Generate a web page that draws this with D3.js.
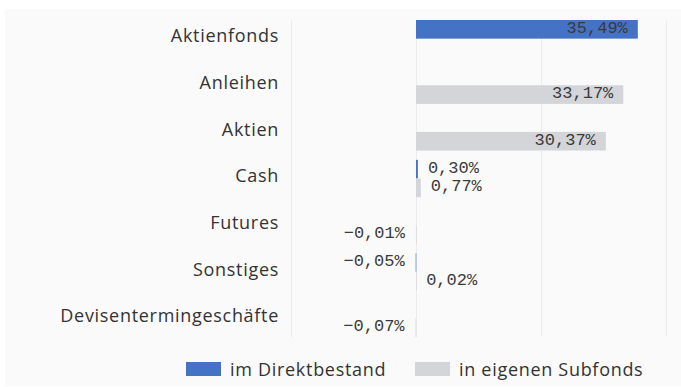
<!DOCTYPE html>
<html>
<head>
<meta charset="utf-8">
<script src="https://cdn.jsdelivr.net/npm/d3@7"></script>
<style>
  html, body { margin: 0; padding: 0; background: #ffffff; }
  svg { display: block; }
</style>
</head>
<body>
<svg id="chart" width="681" height="387"></svg>
<script>
// Asset classes, top to bottom
const categories = ["Aktienfonds", "Anleihen", "Aktien", "Cash", "Futures", "Sonstiges", "Devisentermingeschäfte"];
// Share in percent, held directly
const direktValues = [35.49, null, null, 0.30, null, -0.05, null];
// Share in percent, held through own sub-funds
const subfondsValues = [null, 33.17, 30.37, 0.77, -0.01, 0.02, -0.07];
const seriesNames = ["im Direktbestand", "in eigenen Subfonds"];
const seriesColors = ["#4472c4", "#d3d5d9"];
const xTicks = [-20, 0, 20, 40];

const svg = d3.select("#chart");
const labelFont = "'Open Sans', 'Liberation Sans', sans-serif";
const valueFont = "'Liberation Mono', 'DejaVu Sans Mono', monospace";

// panel background
svg.append("rect")
  .attr("x", 5).attr("y", 9).attr("width", 676).attr("height", 377)
  .attr("fill", "#fafafa");

const x = d3.scaleLinear().domain([-20, 40]).range([291, 666]);
const y = d3.scaleBand().domain(categories).range([20, 337]).paddingInner(0.2).paddingOuter(0);
const ySub = d3.scaleBand().domain(seriesNames).range([0, y.bandwidth()]);

const de = d3.formatLocale({decimal: ",", thousands: ".", grouping: [3], currency: ["", " €"], minus: "\u2212"});
const fmt = v => de.format(".2f")(v) + "%";

// vertical grid lines
const gx = d3.axisBottom(x).tickValues(xTicks).tickSize(-(337 - 20)).tickFormat("");
svg.append("g")
  .attr("transform", "translate(0,337)")
  .call(gx)
  .call(g => g.select(".domain").remove())
  .call(g => g.selectAll(".tick line").attr("stroke", "#ececec").attr("stroke-width", 1));

// category labels
const gy = d3.axisLeft(y).tickSize(0).tickPadding(0);
svg.append("g")
  .attr("transform", "translate(279,-2)")
  .call(gy)
  .call(g => g.select(".domain").remove())
  .call(g => g.selectAll("text")
    .attr("font-family", labelFont)
    .attr("font-size", 18)
    .attr("letter-spacing", "0.7px")
    .attr("fill", "#333333"));

const rows = [];
categories.forEach((c, i) => {
  [direktValues, subfondsValues].forEach((arr, s) => {
    if (arr[i] !== null) rows.push({cat: c, series: seriesNames[s], color: seriesColors[s], value: arr[i]});
  });
});

const bars = svg.append("g");
bars.selectAll("rect").data(rows).join("rect")
  .attr("x", d => x(Math.min(0, d.value)))
  .attr("y", d => y(d.cat) + ySub(d.series))
  .attr("width", d => Math.max(0.6, Math.abs(x(d.value) - x(0))))
  .attr("height", ySub.bandwidth())
  .attr("fill", d => d.color);

// value labels: inside the bar end when it fits, otherwise beside it
const labels = svg.append("g")
  .attr("font-family", valueFont)
  .attr("font-size", 17)
  .attr("fill", "#3a3a3a");
labels.selectAll("text").data(rows).join("text")
  .attr("x", d => {
    const w = Math.abs(x(d.value) - x(0));
    if (d.value >= 0) return w > 80 ? x(d.value) - 10 : x(d.value) + 10;
    return x(d.value) - 11;
  })
  .attr("text-anchor", d => {
    const w = Math.abs(x(d.value) - x(0));
    return (d.value >= 0 && w <= 80) ? "start" : "end";
  })
  .attr("y", d => y(d.cat) + ySub(d.series) + ySub.bandwidth() / 2 - 1)
  .attr("dominant-baseline", "central")
  .text(d => fmt(d.value));

// legend
const legend = svg.append("g");
const legendX = [186, 415];
seriesNames.forEach((n, i) => {
  legend.append("rect")
    .attr("x", legendX[i]).attr("y", 362).attr("width", 35).attr("height", 14)
    .attr("fill", seriesColors[i]);
  legend.append("text")
    .attr("x", legendX[i] + 44).attr("y", 369)
    .attr("dominant-baseline", "central")
    .attr("font-family", labelFont).attr("font-size", 18)
    .attr("letter-spacing", "0.7px")
    .attr("fill", "#333333")
    .text(n);
});
</script>
</body>
</html>
